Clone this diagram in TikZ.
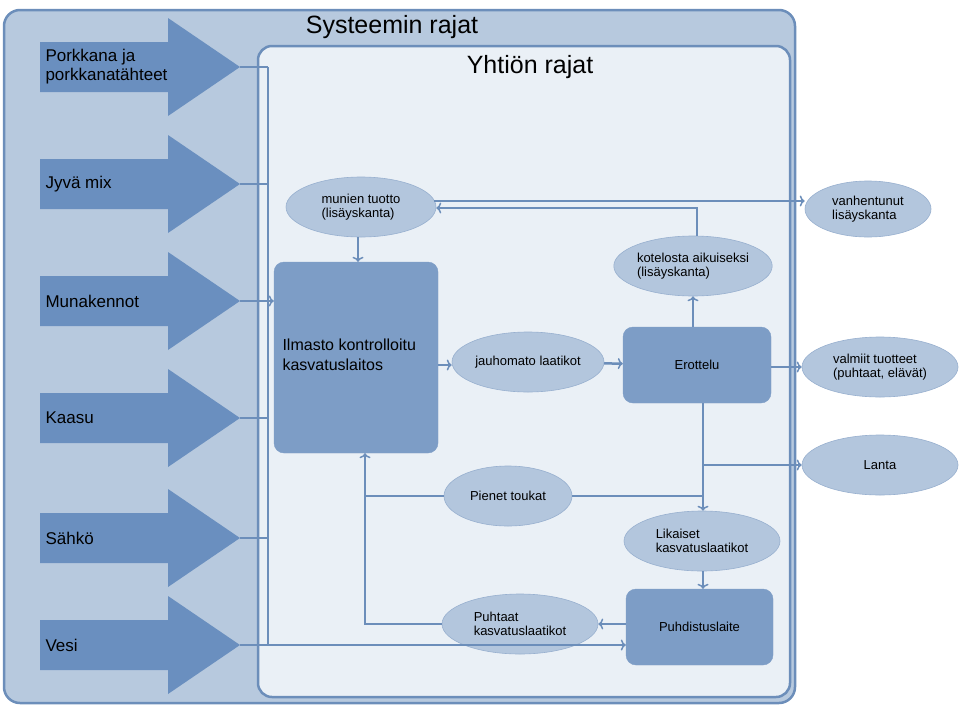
\documentclass[tikz,border=0pt]{standalone}
\usepackage{fontspec}
\setmainfont{Liberation Sans}
\usetikzlibrary{shapes.geometric,arrows.meta}
\definecolor{ln}{HTML}{6C8EBA}
\definecolor{outerf}{HTML}{B7C9DE}
\definecolor{innerf}{HTML}{EAF0F6}
\definecolor{arr}{HTML}{6A8FBF}
\definecolor{boxf}{HTML}{7D9DC6}
\definecolor{ellf}{HTML}{B3C6DD}
\begin{document}
\begin{tikzpicture}[x=1pt,y=-1pt,
  ell/.style={ellipse,draw=ln!70,fill=ellf,line width=0.6pt,minimum width=150pt,minimum height=60pt,inner sep=0pt,align=left,font=\fontsize{13}{14}\selectfont},
  box/.style={rounded corners=10pt,fill=boxf,draw=boxf},
  con/.style={draw=ln,line width=2.5pt},
  ar/.style={con,-{To[length=5pt,width=11pt,line width=1.5pt]}},
  big/.style={fill=arr},
  lab/.style={anchor=west,font=\fontsize{17}{19}\selectfont,align=left}]
\useasboundingbox (0,0) rectangle (965,707);
\fill[white] (0,0) rectangle (965,707);
% outer system box
\draw[ln,line width=2.5pt,fill=outerf,rounded corners=16pt] (4,10) rectangle (795,703);
\node (sys) at (392,27) {\fontsize{25}{27}\selectfont Systeemin rajat};
% inner company box
\draw[ln,line width=2.5pt,fill=innerf,rounded corners=14pt] (258,46) rectangle (790,697);
\node (yht) at (530,67) {\fontsize{25}{27}\selectfont Yhtiön rajat};
% big input arrows
\foreach \y/\t/\n in {67/{Porkkana ja\\porkkanatähteet}/a1,184/Jyvä mix/a2,301/Munakennot/a3,418/Kaasu/a4,538/Sähkö/a5,645/Vesi/a6}{
  \fill[arr] (40,\y-25) -- (168,\y-25) -- (168,\y-49) -- (240,\y) -- (168,\y+49) -- (168,\y+25) -- (40,\y+25) -- cycle;
  \coordinate (\n) at (240,\y);
  \node[lab] at (42,\y) {\t};
}
\coordinate (vt) at (268,67);
\coordinate (vb) at (268,645);
\draw[con] (vt) -- (vb);
\foreach \n in {a1,a2,a4,a5}{\draw[con] (\n) -- (\n -| vt);}
% nodes
\node[box,minimum width=164pt,minimum height=191pt] (ilm) at (356,357.5) {};
\node[anchor=west,font=\fontsize{16}{20}\selectfont,align=left] at (279,355) {Ilmasto kontrolloitu\\kasvatuslaitos};
\node[box,minimum width=148pt,minimum height=76pt,font=\fontsize{13}{14}\selectfont] (ero) at (697,365) {Erottelu};
\node[box,minimum width=147pt,minimum height=76pt,font=\fontsize{13}{14}\selectfont] (puh) at (699.5,627) {Puhdistuslaite};
\node[ell] (mun) at (361,207) {munien tuotto\\(lisäyskanta)};
\node[ell,minimum width=152pt] (jau) at (528,362) {jauhomato laatikot};
\node[ell,minimum width=154pt] (kot) at (693,266) {kotelosta aikuiseksi\\(lisäyskanta)};
\node[ell,minimum width=126pt,minimum height=56pt] (van) at (868,209) {vanhentunut\\lisäyskanta};
\node[ell,minimum width=156pt] (val) at (880,367) {valmiit tuotteet\\(puhtaat, elävät)};
\node[ell,minimum width=156pt] (lan) at (880,465) {Lanta};
\node[ell,minimum width=128pt] (pie) at (508,496) {Pienet toukat};
\node[ell,minimum width=156pt] (lik) at (702,541) {Likaiset\\kasvatuslaatikot};
\node[ell,minimum width=156pt] (pht) at (520,624) {Puhtaat\\kasvatuslaatikot};
% connectors
\draw[ar] (a3) -- (ilm.west |- a3);
\draw[ar] (a6) -- (a6 -| puh.west) coordinate (pv);
\draw[ar] (mun.south -| 358,0) -- (ilm.north -| 358,0);
\draw[ar] (ilm.east |- 0,365) -- (jau.west |- 0,365);
\draw[ar] (jau) -- (ero);
\draw[ar] (ero.north -| kot) -- (kot.south);
\draw[ar] (ero.east |- val) -- (val.west);
\draw[ar] (kot.north -| 697,0) -- (697,208) -- (mun.east |- 0,208);
\draw[ar] (434,201) -- (van.west |- 0,201);
\coordinate (jn) at (703,465);
\draw[ar] (ero.south -| 703,0) -- (lik.north -| 703,0);
\draw[ar] (jn) -- (lan.west);
\draw[con] (pie.east) -- (pie.east -| jn);
\draw[ar] (pie.west) -- (365,496) -- (ilm.south -| 365,0);
\draw[con] (pht.west) -- (365,624) -- (365,496);
\draw[ar] (lik.south -| 703,0) -- (puh.north -| 703,0);
\draw[ar] (puh.west |- pht) -- (pht.east);
\end{tikzpicture}
\end{document}
